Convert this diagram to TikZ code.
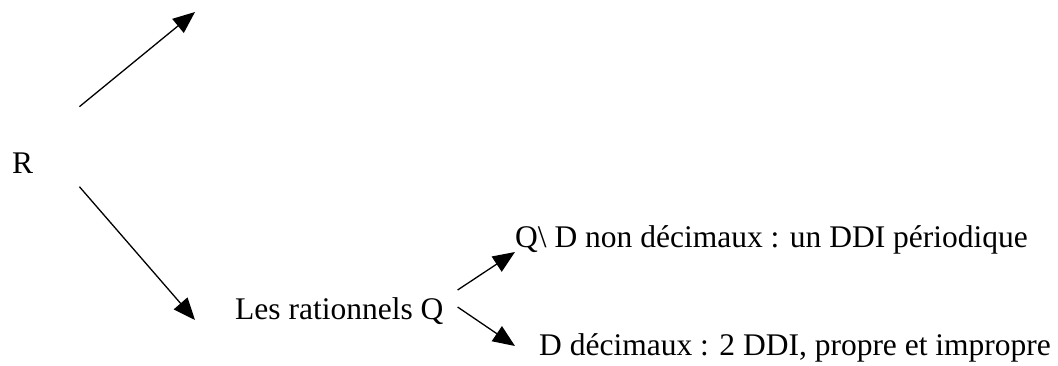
\documentclass[tikz,border=0pt]{standalone}
\usepackage{fontspec}
\setmainfont{Liberation Serif}
\usetikzlibrary{arrows.meta}
\begin{document}
\begin{tikzpicture}[x=1pt,y=-1pt,
  lbl/.style={inner sep=0pt,anchor=base west,font=\fontsize{31.5}{38}\selectfont},
  conn/.style={line width=1.3pt,-{Triangle[length=22pt,width=18pt]}}]
\useasboundingbox (0,0) rectangle (1058,365);
\node[lbl] (R) at (12,173) {R};
\node[lbl] (rat) at (235,319) {Les rationnels Q};
\node[lbl] (qd) at (515,247) {Q\textbackslash\ D non décimaux : un DDI périodique};
\node[lbl] (d) at (539,355) {D décimaux : 2 DDI, propre et impropre};
\coordinate (up) at (195,12);
\draw[conn] ([xshift=46pt,yshift=56pt]R.east) -- (up);
\draw[conn] ([xshift=46pt,yshift=-24pt]R.east) -- ([xshift=-40pt,yshift=-1pt]rat.base west);
\draw[conn] ([xshift=14pt,yshift=29pt]rat.base east) -- ([yshift=-5pt]qd.base west);
\draw[conn] ([xshift=14pt,yshift=12pt]rat.base east) -- ([xshift=-24pt,yshift=9pt]d.base west);
\end{tikzpicture}
\end{document}
